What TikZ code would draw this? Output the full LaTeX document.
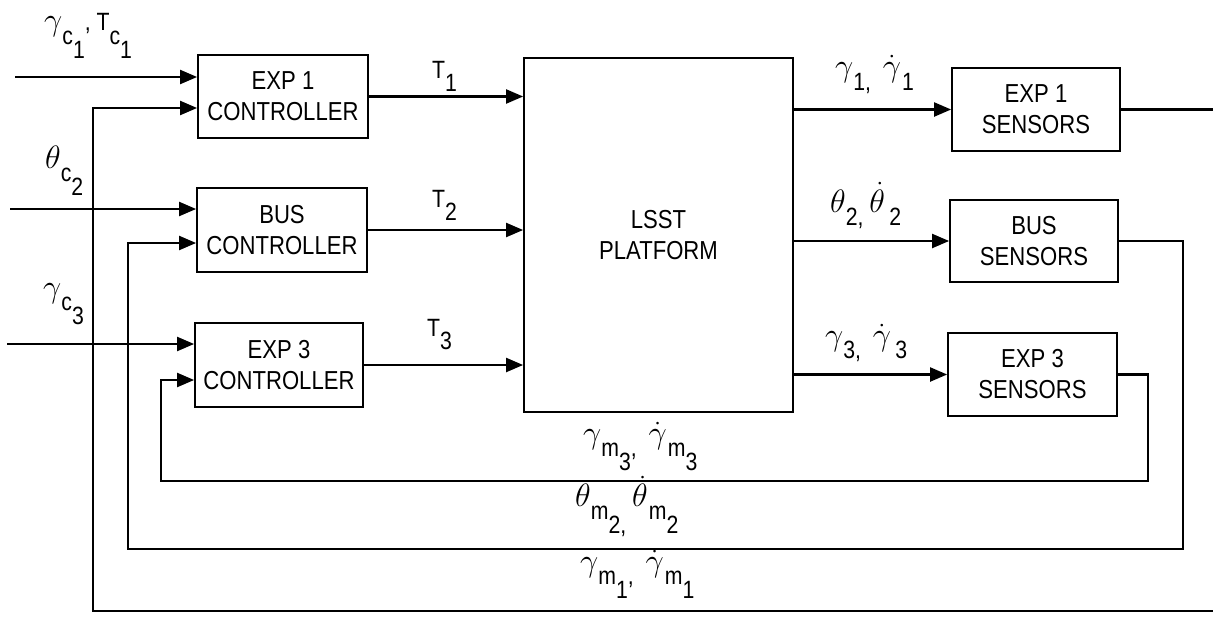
\documentclass[tikz,border=0pt]{standalone}
\usepackage{fontspec}
\setsansfont[FakeStretch=0.85]{Liberation Sans}
\usetikzlibrary{arrows.meta}
\newcommand\lo[1]{\raisebox{-0.55em}{#1}}
\newcommand\M[1]{\scalebox{1.3}{$#1$}}
\newcommand\boxf{\sffamily\fontsize{26}{31}\selectfont}
\newcommand\labf{\sffamily\fontsize{25}{30}\selectfont}
\begin{document}
\begin{tikzpicture}[x=1pt,y=-1pt,
  box/.style={draw, line width=1.8pt, inner sep=0pt, align=center, font=\boxf},
  conn/.style={line width=2.2pt},
  arr/.style={conn, -{Triangle[length=17pt,width=14pt]}},
  lab/.style={font=\labf, inner sep=0pt, anchor=base west}]
\useasboundingbox (0,0) rectangle (1213,618);

% blocks
\node[box, minimum width=170pt, minimum height=83pt] (c1) at (283,96.5) {EXP 1\\CONTROLLER};
\node[box, minimum width=170pt, minimum height=84pt] (c2) at (282,230) {BUS\\CONTROLLER};
\node[box, minimum width=168pt, minimum height=84pt] (c3) at (279,365) {EXP 3\\CONTROLLER};
\node[box, minimum width=269pt, minimum height=354pt] (P) at (658.5,235) {LSST\\PLATFORM};
\node[box, minimum width=168pt, minimum height=83pt] (s1) at (1036,109.5) {EXP 1\\SENSORS};
\node[box, minimum width=168pt, minimum height=82pt] (s2) at (1034,241) {BUS\\SENSORS};
\node[box, minimum width=169pt, minimum height=83pt] (s3) at (1032.5,374.5) {EXP 3\\SENSORS};

% command inputs
\coordinate (i1) at (15,77);
\coordinate (i2) at (10,209);
\coordinate (i3) at (7,344);
\draw[arr] (i1) -- (i1 -| c1.west);
\draw[arr] (i2) -- (i2 -| c2.west);
\draw[arr] (i3) -- (i3 -| c3.west);

% controller outputs
\draw[arr] (c1.east) -- (c1.east -| P.west);
\draw[arr] (c2.east) -- (c2.east -| P.west);
\draw[arr] (c3.east) -- (c3.east -| P.west);

% platform outputs
\draw[arr] (P.east |- s1.west) -- (s1.west);
\draw[arr] (P.east |- s2.west) -- (s2.west);
\draw[arr] (P.east |- s3.west) -- (s3.west);

% feedback loops
\coordinate (e1) at (1213,109.5);
\coordinate (e1b) at (1213,611);
\draw[conn] (s1.east) -- (e1);
\draw[arr] (e1b) -- (93,611) -- (93,108) -- (93,108 -| c1.west);
\draw[arr] (s2.east) -- (1183,241) -- (1183,549) -- (128,549) -- (128,243) -- (128,243 -| c2.west);
\draw[arr] (s3.east) -- (1148,374.5) -- (1148,481) -- (161,481) -- (161,380) -- (161,380 -| c3.west);

% labels
\node[lab] (lc1) at (44,31) {\M{\gamma}\lo{c\lo{1}}, T\lo{c\lo{1}}};
\node[lab] (lc2) at (45,168) {\M{\theta}\lo{c\lo{2}}};
\node[lab] (lc3) at (43,297) {\M{\gamma}\lo{c\lo{3}}};
\node[lab] (lt1) at (432,78) {T\lo{1}};
\node[lab] (lt2) at (432,207) {T\lo{2}};
\node[lab] (lt3) at (427,336) {T\lo{3}};
\node[lab] (lr1) at (835,77) {\M{\gamma}\lo{1,}\ \ \M{\dot\gamma}\kern1pt\lo{1}};
\node[lab] (lr2) at (830,212) {\M{\theta}\lo{2,}\ \M{\dot\theta}\lo{\,2}};
\node[lab] (lr3) at (825,345) {\M{\gamma}\lo{3,}\ \ \M{\dot\gamma}\lo{\,3}};
\node[lab] (lb3) at (583,443) {\M{\gamma}\lo{m\lo{3},}\ \ \M{\dot\gamma}\kern1pt\lo{m\lo{3}}};
\node[lab] (lb2) at (575,506) {\M{\theta}\lo{m\lo{2,}}\ \M{\dot\theta}\kern1pt\lo{m\lo{2}}};
\node[lab] (lb1) at (580,571) {\M{\gamma}\lo{m\lo{1},}\ \ \M{\dot\gamma}\kern1pt\lo{m\lo{1}}};
\end{tikzpicture}
\end{document}
